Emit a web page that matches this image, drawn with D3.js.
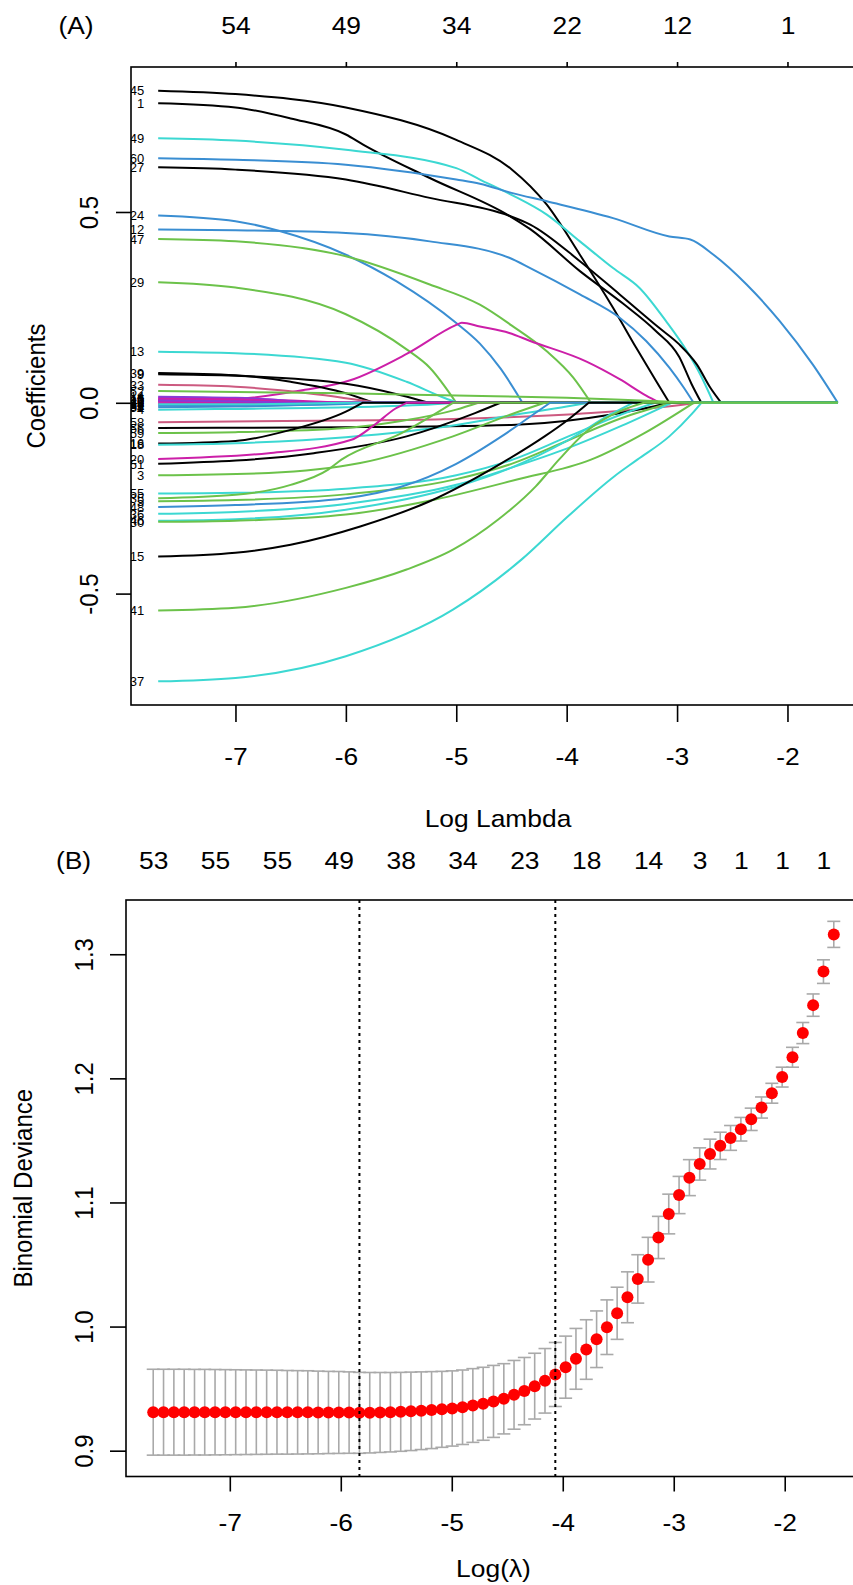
<!DOCTYPE html>
<html>
<head>
<meta charset="utf-8">
<script src="https://cdn.jsdelivr.net/npm/d3@7"></script>
<style>
  html, body { margin: 0; padding: 0; background: #ffffff; }
  svg { display: block; font-family: "Liberation Sans", Arial, Helvetica, sans-serif; }
</style>
</head>
<body>
<svg id="chart" width="853" height="1585"></svg>
<script>
// ---------------- Panel A: lasso coefficient paths ----------------
// Colour codes used by the coefficient paths
const palette = {
  K: "#000000", B: "#3a8ed2", C: "#3cd8d2", G: "#6cc24a",
  M: "#cc1fa8", P: "#cc5a80", U: "#8a3ad6"
};

const coefLabels = [
  "45", "1", "49", "60", "27", "24", "12", "47", "29", "13",
  "22", "39", "9", "33", "6", "14", "11", "40", "44", "53",
  "28", "4", "2", "10", "34", "19", "58", "56", "59", "16",
  "18", "20", "51", "3", "55", "35", "5", "48", "36", "46",
  "30", "15", "41", "37", "52"
];

const coefColors = [
  "K", "K", "C", "B", "K", "B", "B", "G", "G", "C",
  "M", "K", "K", "P", "M", "U", "M", "M", "M", "B",
  "M", "C", "M", "U", "B", "C", "P", "K", "G", "K",
  "C", "M", "K", "G", "C", "G", "G", "B", "C", "C",
  "G", "K", "G", "C", "G"
];

// [log(lambda), coefficient] knots of each path
const coefPaths = [
  [[-7.70,0.818],[-7,0.809],[-6,0.774],[-5,0.689],[-4.5,0.612],[-4.18,0.519],[-3.88,0.388],[-3.58,0.249],[-3.37,0.144],[-3.19,0.057],[-3.07,0]],
  [[-7.70,0.785],[-7,0.774],[-6.5,0.745],[-6,0.703],[-5.84,0.676],[-5.24,0.589],[-4.52,0.49],[-4.33,0.455],[-3.88,0.345],[-3.49,0.26],[-3.2,0.19],[-2.98,0.12],[-2.87,0.05],[-2.78,0]],
  [[-7.70,0.693],[-7,0.687],[-6,0.663],[-5,0.615],[-4.786,0.585],[-4.5,0.545],[-4.18,0.493],[-3.88,0.423],[-3.58,0.353],[-3.34,0.301],[-3.1,0.214],[-2.91,0.135],[-2.79,0.074],[-2.67,0]],
  [[-7.70,0.641],[-7,0.637],[-6,0.624],[-5,0.585],[-4.786,0.574],[-4.5,0.55],[-4.18,0.528],[-3.58,0.484],[-3.07,0.436],[-2.88,0.428],[-2.67,0.388],[-2.37,0.31],[-2.07,0.214],[-1.77,0.10],[-1.544,0]],
  [[-7.70,0.617],[-7,0.611],[-6,0.585],[-5.24,0.537],[-4.52,0.49],[-4.33,0.467],[-3.88,0.371],[-3.52,0.284],[-3.16,0.196],[-2.98,0.153],[-2.82,0.10],[-2.70,0.04],[-2.60,0]],
  [[-7.70,0.491],[-7,0.476],[-6.6,0.45],[-6,0.388],[-5.54,0.318],[-5,0.209],[-4.786,0.155],[-4.6,0.09],[-4.4,0]],
  [[-7.70,0.454],[-7,0.452],[-6,0.445],[-5.24,0.423],[-4.52,0.38],[-4.33,0.353],[-3.88,0.284],[-3.52,0.223],[-3.28,0.162],[-3.07,0.092],[-2.94,0.04],[-2.85,0]],
  [[-7.70,0.429],[-7,0.423],[-6,0.384],[-5.24,0.31],[-4.786,0.257],[-4.5,0.203],[-4.18,0.135],[-3.94,0.066],[-3.78,0]],
  [[-7.70,0.316],[-7,0.302],[-6,0.232],[-5.45,0.14],[-5.24,0.092],[-5.0,0]],
  [[-7.70,0.134],[-7,0.13],[-6,0.105],[-5.45,0.055],[-5.1,0.012],[-4.98,0]],
  [[-7.70,0.004],[-7,0.01],[-6.37,0.034],[-5.96,0.059],[-5.45,0.128],[-5.0,0.204],[-4.95,0.21],[-4.786,0.2],[-4.52,0.183],[-4.33,0.162],[-3.82,0.108],[-3.52,0.062],[-3.28,0.019],[-3.155,0]],
  [[-7.70,0.078],[-7,0.072],[-6.5,0.055],[-6,0.025],[-5.75,0]],
  [[-7.70,0.075],[-7,0.071],[-6,0.05],[-5.5,0.02],[-5.25,0]],
  [[-7.70,0.047],[-7,0.042],[-6.5,0.03],[-6,0.012],[-5.7,0]],
  [[-7.70,0.013],[-7,0.011],[-6.5,0.006],[-6,0]],
  [[-7.70,0.016],[-7,0.013],[-6.5,0.005],[-6.3,0]],
  [[-7.70,0.008],[-7,0.006],[-6.2,0]],
  [[-7.70,0.003],[-6.8,0]],
  [[-7.70,-0.004],[-7,-0.003],[-6.6,0]],
  [[-7.70,-0.008],[-7,-0.007],[-6,-0.003],[-5.8,0]],
  [[-7.70,-0.001],[-7.2,0]],
  [[-7.70,-0.018],[-7,-0.016],[-6,-0.012],[-5.2,-0.004],[-5,0]],
  [[-7.70,0.010],[-7,0.009],[-6.6,0.004],[-6.4,0]],
  [[-7.70,0.006],[-7,0.004],[-6.5,0]],
  [[-7.70,-0.012],[-7,-0.01],[-6.2,-0.004],[-5.9,0]],
  [[-7.70,-0.004],[-7,-0.004],[-6,0]],
  [[-7.70,-0.051],[-5.45,-0.045],[-3.78,-0.027],[-2.95,-0.005],[-2.82,0]],
  [[-7.70,-0.066],[-6,-0.064],[-4.5,-0.058],[-3.8,-0.04],[-3.3,-0.015],[-3.07,0]],
  [[-7.70,-0.079],[-7,-0.077],[-6,-0.066],[-5.5,-0.048],[-5,-0.018],[-4.8,0]],
  [[-7.70,-0.107],[-7,-0.1],[-6.5,-0.071],[-6,-0.023],[-5.85,0]],
  [[-7.70,-0.110],[-7,-0.106],[-6,-0.09],[-5,-0.058],[-4.5,-0.033],[-4,-0.01],[-3.8,0]],
  [[-7.70,-0.147],[-6.7,-0.132],[-5.95,-0.097],[-5.75,-0.06],[-5.55,-0.015],[-5.45,0]],
  [[-7.70,-0.160],[-6.29,-0.132],[-5.45,-0.088],[-4.83,-0.027],[-4.6,0]],
  [[-7.70,-0.190],[-6.7,-0.184],[-5.87,-0.158],[-5.03,-0.088],[-4.5,-0.03],[-4.2,0]],
  [[-7.70,-0.238],[-7,-0.236],[-6,-0.225],[-5,-0.19],[-4.5,-0.15],[-4,-0.09],[-3.5,-0.03],[-3.2,0]],
  [[-7.70,-0.250],[-7,-0.241],[-6.5,-0.215],[-6.16,-0.175],[-6.04,-0.149],[-5.5,-0.08],[-5.03,0]],
  [[-7.70,-0.258],[-7,-0.255],[-6,-0.24],[-5,-0.2],[-4.5,-0.16],[-4,-0.1],[-3.5,-0.04],[-3.05,0]],
  [[-7.70,-0.273],[-7,-0.268],[-6,-0.25],[-5.5,-0.22],[-5,-0.16],[-4.6,-0.09],[-4.3,-0.03],[-4.15,0]],
  [[-7.70,-0.291],[-7,-0.286],[-6,-0.265],[-5,-0.215],[-4.5,-0.17],[-4,-0.12],[-3.5,-0.06],[-3.05,0]],
  [[-7.70,-0.309],[-7,-0.305],[-6,-0.28],[-5,-0.22],[-4.5,-0.17],[-4,-0.1],[-3.6,-0.03],[-3.4,0]],
  [[-7.70,-0.312],[-7,-0.309],[-6,-0.293],[-5.2,-0.254],[-4.45,-0.201],[-3.78,-0.149],[-3.3,-0.08],[-2.85,0]],
  [[-7.70,-0.403],[-7,-0.393],[-6.5,-0.372],[-5.87,-0.324],[-5.24,-0.258],[-4.6,-0.16],[-4.2,-0.088],[-3.99,-0.045],[-3.8,0]],
  [[-7.70,-0.544],[-7,-0.537],[-6,-0.485],[-5.45,-0.437],[-5.03,-0.385],[-4.62,-0.306],[-4.28,-0.219],[-4.07,-0.149],[-3.8,-0.07],[-3.5,-0.02],[-3.3,0]],
  [[-7.70,-0.730],[-7,-0.721],[-6,-0.664],[-5.03,-0.542],[-4.41,-0.411],[-3.99,-0.298],[-3.57,-0.193],[-3.36,-0.149],[-3.07,-0.088],[-2.86,-0.027],[-2.78,0]],
  [[-7.70,0.031],[-6,0.025],[-5,0.019],[-4,0.013],[-3.5,0.008],[-3,0.002],[-2.85,0]]
];

// Number of non-zero coefficients along the top of panel A
const topTicksA = [-7, -6, -5, -4, -3, -2];
const topCountsA = ["54", "49", "34", "22", "12", "1"];
const bottomTicksA = [-7, -6, -5, -4, -3, -2];
const yTicksA = [-0.5, 0.0, 0.5];

// ---------------- Panel B: cross-validation curve ----------------
const logLambda = [
  -7.690, -7.597, -7.504, -7.411, -7.318, -7.226, -7.133, -7.040, -6.947, -6.854,
  -6.761, -6.668, -6.575, -6.482, -6.389, -6.297, -6.204, -6.111, -6.018, -5.925,
  -5.832, -5.739, -5.646, -5.553, -5.460, -5.368, -5.275, -5.182, -5.089, -4.996,
  -4.903, -4.810, -4.717, -4.624, -4.531, -4.439, -4.346, -4.253, -4.160, -4.067,
  -3.974, -3.881, -3.788, -3.695, -3.602, -3.510, -3.417, -3.324, -3.231, -3.138,
  -3.045, -2.952, -2.859, -2.766, -2.673, -2.581, -2.488, -2.395, -2.302, -2.209,
  -2.116, -2.023, -1.930, -1.837, -1.744, -1.651, -1.558
];

const cvMean = [
  0.9310, 0.9310, 0.9310, 0.9310, 0.9310, 0.9310, 0.9310, 0.9310, 0.9310, 0.9310,
  0.9310, 0.9310, 0.9310, 0.9309, 0.9309, 0.9309, 0.9308, 0.9308, 0.9308, 0.9307,
  0.9305, 0.9306, 0.9308, 0.9310, 0.9313, 0.9317, 0.9322, 0.9327, 0.9333, 0.9340,
  0.9350, 0.9364, 0.9378, 0.9397, 0.9418, 0.9450, 0.9480, 0.9520, 0.9563, 0.9614,
  0.9673, 0.9740, 0.9815, 0.9898, 0.9995, 1.0107, 1.0236, 1.0384, 1.0539, 1.0718,
  1.0907, 1.1060, 1.1200, 1.1310, 1.1390, 1.1456, 1.1520, 1.1590, 1.1670, 1.1765,
  1.1880, 1.2010, 1.2170, 1.2365, 1.2590, 1.2860, 1.3160
];

const cvSE = [
  0.0346, 0.0346, 0.0346, 0.0346, 0.0345, 0.0345, 0.0344, 0.0343, 0.0342, 0.0341,
  0.0340, 0.0339, 0.0338, 0.0337, 0.0336, 0.0335, 0.0333, 0.0331, 0.0330, 0.0328,
  0.0326, 0.0324, 0.0322, 0.0320, 0.0318, 0.0316, 0.0313, 0.0310, 0.0306, 0.0303,
  0.0300, 0.0297, 0.0294, 0.0290, 0.0283, 0.0277, 0.0271, 0.0265, 0.0260, 0.0258,
  0.0250, 0.0245, 0.0240, 0.0228, 0.0220, 0.0210, 0.0205, 0.0195, 0.0180, 0.0170,
  0.0160, 0.0150, 0.0145, 0.0130, 0.0120, 0.0110, 0.0100, 0.0095, 0.0090, 0.0085,
  0.0080, 0.0080, 0.0080, 0.0085, 0.0090, 0.0095, 0.0105
];

// Non-zero counts printed along the top of panel B (at selected lambdas)
const topIndexB = [0, 6, 12, 18, 24, 30, 36, 42, 48, 53, 57, 61, 65];
const topCountsB = ["53", "55", "55", "49", "38", "34", "23", "18", "14", "3", "1", "1", "1"];
const bottomTicksB = [-7, -6, -5, -4, -3, -2];
const yTicksB = [0.9, 1.0, 1.1, 1.2, 1.3];

// ---------------- drawing ----------------
const svg = d3.select("#chart");
const FONT = 24;
const WIDEN = 1.1;   // horizontal widening of the annotation glyphs

function padRange(ext) {
  const r = ext[1] - ext[0];
  return [ext[0] - 0.04 * r, ext[1] + 0.04 * r];
}

// text placed at (x, yc) with its vertical centre on yc
function label(x, yc, txt, rotate) {
  const t = svg.append("text")
    .attr("font-size", FONT).attr("text-anchor", "middle").attr("fill", "#000");
  if (rotate) {
    t.attr("transform", `translate(${x + 8.6},${yc}) scale(${WIDEN},1) rotate(-90)`);
  } else {
    t.attr("transform", `translate(${x},${yc + 8.6}) scale(${WIDEN},1)`);
  }
  t.text(txt);
  return t;
}

// ---- Panel A ----
const boxA = { left: 131, right: 865, top: 67, bottom: 705 };
const allKnots = coefPaths.flat();
const Lmax = d3.max(allKnots, d => d[0]);
const xA = d3.scaleLinear()
  .domain(padRange(d3.extent(allKnots, d => d[0])))
  .range([boxA.left, boxA.right]);
const yA = d3.scaleLinear()
  .domain(padRange(d3.extent(allKnots, d => d[1])))
  .range([boxA.bottom, boxA.top]);

svg.append("clipPath").attr("id", "clipA")
  .append("rect")
  .attr("x", boxA.left).attr("y", boxA.top)
  .attr("width", boxA.right - boxA.left).attr("height", boxA.bottom - boxA.top);

const gA = svg.append("g").attr("clip-path", "url(#clipA)");
const curveGen = d3.line()
  .x(d => xA(d[0])).y(d => yA(d[1]))
  .curve(d3.curveMonotoneX);

coefPaths.forEach((path, i) => {
  const last = path[path.length - 1];
  let dStr = curveGen(path);
  if (last[0] < Lmax) dStr += "L" + xA(Lmax) + "," + yA(0);
  gA.append("path")
    .attr("d", dStr)
    .attr("fill", "none")
    .attr("stroke", palette[coefColors[i]])
    .attr("stroke-width", 2)
    .attr("stroke-linejoin", "round");
});

// variable labels at the left end of each path (clipped by the plot box)
coefPaths.forEach((path, i) => {
  gA.append("text")
    .attr("x", xA(path[0][0]) - 14)
    .attr("y", yA(path[0][1]))
    .attr("dy", "0.36em")
    .attr("text-anchor", "end")
    .attr("font-size", 13)
    .attr("fill", "#000")
    .text(coefLabels[i]);
});

// box
svg.append("rect")
  .attr("x", boxA.left).attr("y", boxA.top)
  .attr("width", boxA.right - boxA.left).attr("height", boxA.bottom - boxA.top)
  .attr("fill", "none").attr("stroke", "#000").attr("stroke-width", 1.6);

function styleAxis(g) {
  g.select(".domain").remove();
  g.selectAll(".tick line").attr("stroke", "#000").attr("stroke-width", 1.6);
  g.selectAll(".tick text").attr("fill", "#000").attr("font-size", FONT)
    .attr("font-family", "Liberation Sans, Arial, sans-serif");
}
function widenTicks(g) {
  g.selectAll(".tick text").attr("transform", `scale(${WIDEN},1)`);
}

svg.append("g")
  .attr("transform", `translate(0,${boxA.bottom})`)
  .call(d3.axisBottom(xA).tickValues(bottomTicksA).tickFormat(d => String(d))
    .tickSize(17).tickPadding(26))
  .call(styleAxis).call(widenTicks);

svg.append("g")
  .attr("transform", `translate(0,${boxA.top})`)
  .call(d3.axisTop(xA).tickValues(topTicksA).tickFormat((d, i) => topCountsA[i])
    .tickSize(5).tickPadding(28))
  .call(styleAxis).call(widenTicks);

const leftA = svg.append("g")
  .attr("transform", `translate(${boxA.left},0)`)
  .call(d3.axisLeft(yA).tickValues(yTicksA).tickFormat(d => d.toFixed(1)).tickSize(15))
  .call(styleAxis);
leftA.selectAll(".tick text")
  .attr("transform", `scale(${WIDEN},1) rotate(-90)`)
  .attr("x", 0).attr("y", -33 / WIDEN).attr("dy", 0)
  .attr("text-anchor", "middle");

label(36, (boxA.top + boxA.bottom) / 2, "Coefficients", true);
label((boxA.left + boxA.right) / 2, 818, "Log Lambda");
label(76, 25, "(A)");

// ---- Panel B ----
const boxB = { left: 126, right: 861, top: 900, bottom: 1476.5 };
const cvData = logLambda.map((l, i) => ({ l, m: cvMean[i], lo: cvMean[i] - cvSE[i], hi: cvMean[i] + cvSE[i] }));
const xB = d3.scaleLinear()
  .domain(padRange(d3.extent(logLambda)))
  .range([boxB.left, boxB.right]);
const yB = d3.scaleLinear()
  .domain(padRange([d3.min(cvData, d => d.lo), d3.max(cvData, d => d.hi)]))
  .range([boxB.bottom, boxB.top]);

// lambda.min and lambda.1se
const iMin = d3.minIndex(cvMean);
const thr = cvMean[iMin] + cvSE[iMin];
let i1se = iMin;
cvMean.forEach((m, i) => { if (m <= thr && logLambda[i] > logLambda[i1se]) i1se = i; });

const gB = svg.append("g");
const cap = 6.5;
const bars = gB.selectAll("g.bar").data(cvData).join("g").attr("class", "bar")
  .attr("stroke", "#a9a9a9").attr("stroke-width", 1.6);
bars.append("line")
  .attr("x1", d => xB(d.l)).attr("x2", d => xB(d.l))
  .attr("y1", d => yB(d.lo)).attr("y2", d => yB(d.hi));
bars.append("line")
  .attr("x1", d => xB(d.l) - cap).attr("x2", d => xB(d.l) + cap)
  .attr("y1", d => yB(d.hi)).attr("y2", d => yB(d.hi));
bars.append("line")
  .attr("x1", d => xB(d.l) - cap).attr("x2", d => xB(d.l) + cap)
  .attr("y1", d => yB(d.lo)).attr("y2", d => yB(d.lo));

gB.selectAll("circle").data(cvData).join("circle")
  .attr("cx", d => xB(d.l)).attr("cy", d => yB(d.m)).attr("r", 6)
  .attr("fill", "#ff0000");

[iMin, i1se].forEach(i => {
  gB.append("line")
    .attr("x1", xB(logLambda[i])).attr("x2", xB(logLambda[i]))
    .attr("y1", boxB.top).attr("y2", boxB.bottom)
    .attr("stroke", "#000").attr("stroke-width", 2).attr("stroke-dasharray", "3,4");
});

svg.append("rect")
  .attr("x", boxB.left).attr("y", boxB.top)
  .attr("width", boxB.right - boxB.left).attr("height", boxB.bottom - boxB.top)
  .attr("fill", "none").attr("stroke", "#000").attr("stroke-width", 1.6);

svg.append("g")
  .attr("transform", `translate(0,${boxB.bottom})`)
  .call(d3.axisBottom(xB).tickValues(bottomTicksB).tickFormat(d => String(d))
    .tickSize(15).tickPadding(22))
  .call(styleAxis).call(widenTicks);

svg.append("g")
  .attr("transform", `translate(0,${boxB.top})`)
  .call(d3.axisTop(xB).tickValues(topIndexB.map(i => logLambda[i]))
    .tickFormat((d, i) => topCountsB[i]).tickSize(0).tickPadding(31))
  .call(styleAxis).call(widenTicks);

const leftB = svg.append("g")
  .attr("transform", `translate(${boxB.left},0)`)
  .call(d3.axisLeft(yB).tickValues(yTicksB).tickFormat(d => d.toFixed(1)).tickSize(16))
  .call(styleAxis);
leftB.selectAll(".tick text")
  .attr("transform", `scale(${WIDEN},1) rotate(-90)`)
  .attr("x", 0).attr("y", -33 / WIDEN).attr("dy", 0)
  .attr("text-anchor", "middle");

label(23, (boxB.top + boxB.bottom) / 2, "Binomial Deviance", true);
label((boxB.left + boxB.right) / 2, 1568, "Log(λ)");
label(73.5, 860, "(B)");
</script>
</body>
</html>
